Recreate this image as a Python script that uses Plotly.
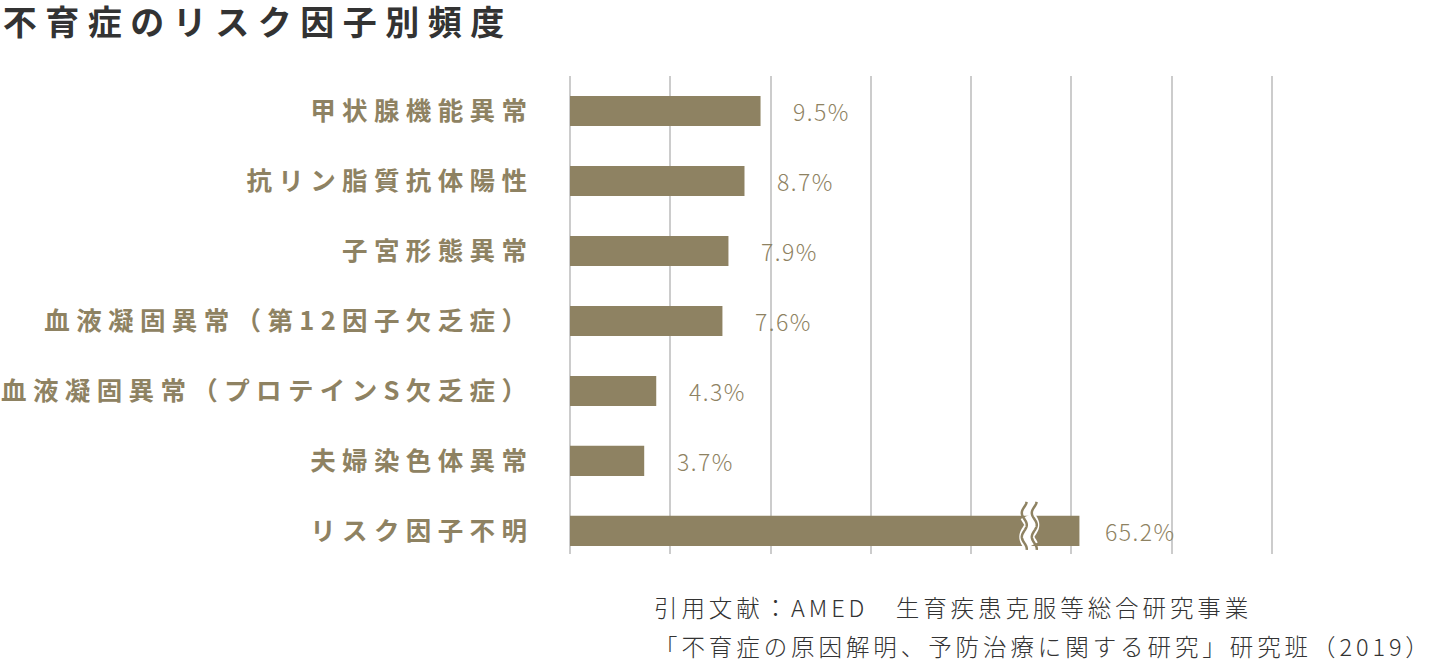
import numpy as np
import plotly.graph_objects as go

# data
categories = ["甲状腺機能異常", "抗リン脂質抗体陽性", "子宮形態異常",
              "血液凝固異常（第12因子欠乏症）", "血液凝固異常（プロテインS欠乏症）",
              "夫婦染色体異常", "リスク因子不明"]
values = [9.5, 8.7, 7.9, 7.6, 4.3, 3.7, 65.2]
x_ticks = [0, 5, 10, 15, 20, 25, 30, 35]
axis_break = 25.4   # long bars get cut (wavy break mark) at this length

bar_color = "#8e8262"
grid_color = "#cccccc"
jp = "Noto Sans CJK JP"


def spread(s, gap="\u2005"):
    # fake letter-spacing, plotly has no letter-spacing option
    return gap.join(s)


shown = [min(v, axis_break) for v in values]
ypos = list(range(len(categories)))

fig = go.Figure(go.Bar(x=shown, y=ypos, orientation="h", width=0.43,
                       marker=dict(color=bar_color, line=dict(width=0)),
                       hoverinfo="skip"))

# value labels
for i, v in enumerate(values):
    fig.add_annotation(x=shown[i], y=i, xshift=60, text=spread(f"{v}%", "\u200a"),
                       showarrow=False, xanchor="center", yanchor="middle",
                       font=dict(family=jp, size=23, color=bar_color, weight=300))

# wavy break marks on cut bars
wy = np.linspace(-19, 29, 60)
wave = 2.5 * np.sin(2 * np.pi * wy / 24)


def wave_path(dx, ys, xs):
    pts = [f"{dx + a:.2f},{b:.2f}" for a, b in zip(xs, ys)]
    return "M" + " L".join(pts)


for i, v in enumerate(values):
    if v <= axis_break:
        continue
    bx = shown[i] - 2.5
    band = (wy > -15.5) & (wy < 15.5)
    fig.add_shape(type="path", xref="x", yref="y", xsizemode="pixel", ysizemode="pixel",
                  xanchor=bx, yanchor=i, path=wave_path(0, wy[band], wave[band]),
                  line=dict(color="white", width=15))
    for dx in (-5, 5):
        fig.add_shape(type="path", xref="x", yref="y", xsizemode="pixel", ysizemode="pixel",
                      xanchor=bx, yanchor=i, path=wave_path(dx, wy, wave),
                      line=dict(color=bar_color, width=2.5))

# source note
fig.add_annotation(xref="paper", yref="paper", x=0.115, y=-0.111,
                   text=spread("引用文献：AMED　生育疾患克服等総合研究事業", "\u2006"),
                   showarrow=False, xanchor="left", yanchor="middle",
                   font=dict(family=jp, size=23.5, color="#333333", weight=300))
fig.add_annotation(xref="paper", yref="paper", x=0.115, y=-0.192,
                   text=spread("「不育症の原因解明、予防治療に関する研究」研究班（2019）", "\u2006"),
                   showarrow=False, xanchor="left", yanchor="middle",
                   font=dict(family=jp, size=23.5, color="#333333", weight=300))

fig.update_layout(
    width=1432, height=664,
    margin=dict(l=570, r=150, t=76, b=110, autoexpand=False),
    paper_bgcolor="white", plot_bgcolor="white",
    showlegend=False,
    title=dict(text=spread("不育症のリスク因子別頻度", "\u2005"),
               xref="container", yref="container", x=0.002, y=1 - 23 / 664,
               xanchor="left", yanchor="middle",
               font=dict(family=jp, size=34, color="#333333", weight="bold")),
)
fig.update_xaxes(range=[0, 35.5], tickvals=x_ticks, showticklabels=False,
                 showgrid=True, gridcolor=grid_color, gridwidth=2,
                 zeroline=True, zerolinecolor=grid_color, zerolinewidth=2,
                 showline=False, fixedrange=True, automargin=False)
fig.update_yaxes(range=[6.33, -0.5], tickvals=ypos,
                 ticktext=[spread(c) for c in categories],
                 tickfont=dict(family=jp, size=25.5, color=bar_color, weight="bold"),
                 ticklabelstandoff=42, showgrid=False, zeroline=False,
                 showline=False, ticks="", fixedrange=True, automargin=False)

fig.write_html("out.html", config={"displayModeBar": False},
               post_script="document.body.style.margin='0';")
